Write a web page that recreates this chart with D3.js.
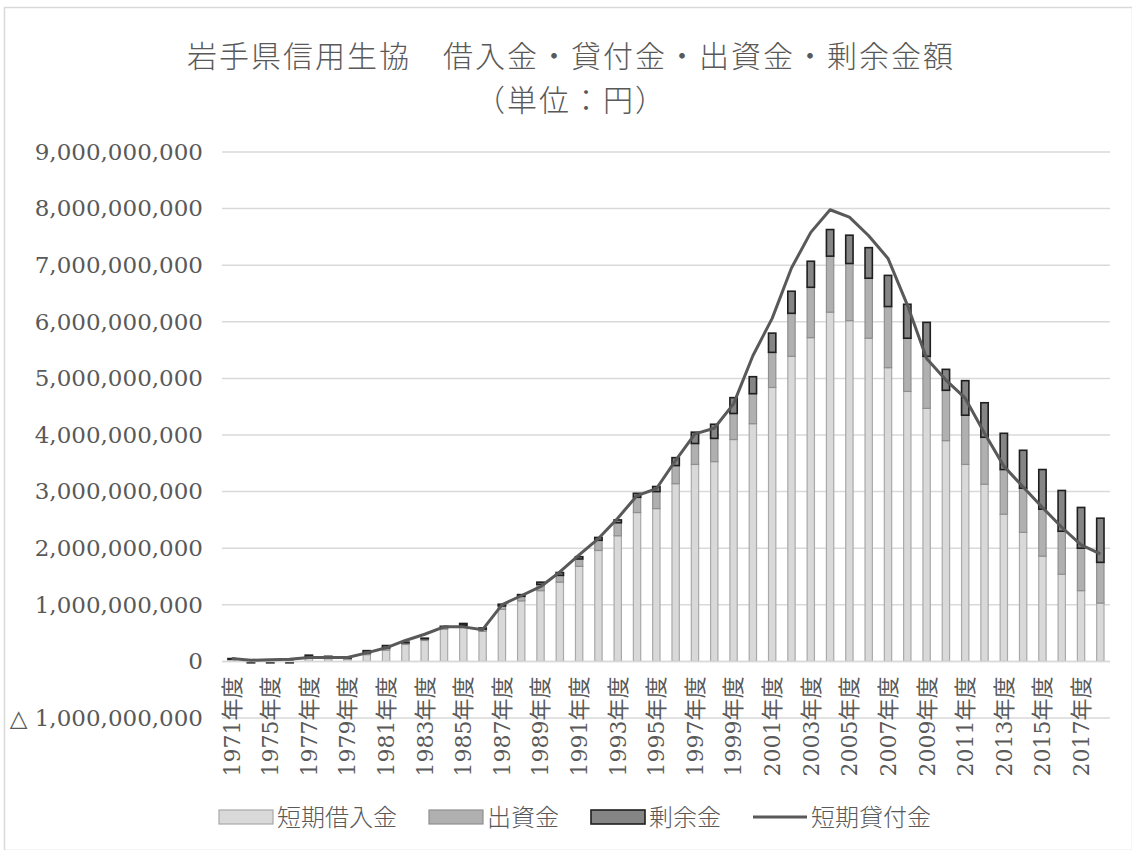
<!DOCTYPE html>
<html lang="ja">
<head>
<meta charset="UTF-8">
<title>岩手県信用生協 借入金・貸付金・出資金・剰余金額</title>
<script src="https://cdnjs.cloudflare.com/ajax/libs/d3/7.8.5/d3.min.js"></script>
<style>
    body { margin: 0; background: #fff; }
    svg text { fill: #595959; }
    .title { font-family: "Noto Sans CJK JP", sans-serif; font-size: 30px; font-weight: 300; letter-spacing: 2px; }
    .axis text { font-family: "DejaVu Serif", "Noto Sans CJK JP", serif; }
    .legend text { font-family: "Noto Sans CJK JP", sans-serif; font-size: 24px; font-weight: 300; }
</style>
</head>
<body>
<div id="chart"></div>
<script>
// 年度 (2nd category unlabeled in the original)
const years = ["1971", "1973", "1975", "1976", "1977", "1978", "1979", "1980", "1981", "1982",
    "1983", "1984", "1985", "1986", "1987", "1988", "1989", "1990", "1991", "1992",
    "1993", "1994", "1995", "1996", "1997", "1998", "1999", "2000", "2001", "2002",
    "2003", "2004", "2005", "2006", "2007", "2008", "2009", "2010", "2011", "2012",
    "2013", "2014", "2015", "2016", "2017", "2018"];

// values in millions of yen
const borrowings = [30, 0, 0, 0, 60, 50, 40, 120, 200, 300, 370, 570, 600, 530, 920, 1070, 1250, 1400, 1680, 1960,
    2220, 2630, 2700, 3140, 3480, 3530, 3920, 4200, 4840, 5390, 5720, 6170, 6020, 5710, 5190, 4770,
    4470, 3900, 3480, 3130, 2600, 2280, 1860, 1540, 1250, 1030];
const capital = [10, 10, 10, 10, 20, 20, 20, 30, 40, 30, 30, 30, 40, 40, 60, 80, 110, 120, 130, 180,
    230, 270, 300, 320, 370, 410, 460, 530, 620, 760, 890, 990, 1010, 1060, 1080, 940,
    920, 890, 870, 830, 790, 780, 830, 760, 750, 720];
const surplus = [10, -25, -25, -25, 30, 20, 10, 40, 40, 10, 10, 20, 30, 20, 30, 30, 40, 50, 40, 50,
    50, 70, 90, 140, 200, 250, 280, 300, 340, 390, 460, 470, 500, 540, 550, 600,
    600, 370, 610, 610, 640, 670, 700, 720, 720, 780];
const loans = [50, 20, 30, 40, 70, 70, 70, 150, 240, 370, 480, 610, 610, 560, 1000, 1160, 1320, 1580, 1880, 2170,
    2530, 2930, 3050, 3550, 4020, 4120, 4550, 5400, 6060, 6950, 7580, 7980, 7850, 7520, 7120, 6300,
    5350, 4970, 4650, 4030, 3450, 3080, 2720, 2370, 2060, 1900];

const yTicks = d3.range(-1e9, 9e9 + 1, 1e9);
const seriesNames = ["短期借入金", "出資金", "剰余金"];
const lineName = "短期貸付金";
const titleLines = ["岩手県信用生協　借入金・貸付金・出資金・剰余金額", "（単位：円）"];

const W = 1132, H = 850;
const plot = {left: 222, right: 1110, top: 152, bottom: 718};

const svg = d3.select("#chart").append("svg")
    .attr("width", W)
    .attr("height", H);

svg.append("rect")
    .attr("x", 4.5).attr("y", 7.5)
    .attr("width", W - 4).attr("height", H - 7)
    .attr("fill", "#fff")
    .attr("stroke", "#d9d9d9")
    .attr("stroke-width", 1.5);

// title, two lines
svg.append("g")
    .selectAll("text")
    .data(titleLines)
    .join("text")
    .attr("class", "title")
    .attr("text-anchor", "middle")
    .attr("x", 571)
    .attr("y", (d, i) => 67 + i * 44)
    .text(d => d);

const data = years.map((y, i) => ({
    year: y,
    "短期借入金": borrowings[i] * 1e6,
    "出資金": capital[i] * 1e6,
    "剰余金": surplus[i] * 1e6,
    loan: loans[i] * 1e6
}));

const x = d3.scaleBand()
    .domain(years)
    .range([plot.left, plot.right])
    .paddingInner(0.62)
    .paddingOuter(0.31);

const y = d3.scaleLinear()
    .domain([-1e9, 9e9])
    .range([plot.bottom, plot.top]);

// gridlines
svg.append("g")
    .selectAll("line")
    .data(yTicks)
    .join("line")
    .attr("x1", plot.left).attr("x2", plot.right)
    .attr("y1", d => y(d)).attr("y2", d => y(d))
    .attr("stroke", "#d9d9d9")
    .attr("stroke-width", 1.5);

// y axis labels
const fmt = d3.format(",");
const yAxis = svg.append("g")
    .attr("class", "axis")
    .attr("transform", `translate(${plot.left},0)`)
    .call(d3.axisLeft(y).tickValues(yTicks).tickSize(0).tickPadding(19)
        .tickFormat(d => d < 0 ? "△ " + fmt(-d) : fmt(d)));
yAxis.select(".domain").remove();
yAxis.selectAll("text").attr("font-size", 23);

// stacked bars
const stack = d3.stack().keys(seriesNames).offset(d3.stackOffsetDiverging);
const layers = stack(data);
const fills = ["#d9d9d9", "#b0b0b0", "#858585"];
const strokes = ["#a9a9a9", "#8f8f8f", "#1f1f1f"];

svg.append("g")
    .selectAll("g")
    .data(layers)
    .join("g")
    .attr("fill", (d, i) => fills[i])
    .attr("stroke", (d, i) => strokes[i])
    .attr("stroke-width", (d, i) => i === 2 ? 1.6 : 1.2)
    .selectAll("rect")
    .data(d => d)
    .join("rect")
    .attr("x", d => x(d.data.year))
    .attr("width", x.bandwidth())
    .attr("y", d => y(Math.max(d[0], d[1])))
    .attr("height", d => Math.abs(y(d[0]) - y(d[1])));

// zero axis line
svg.append("line")
    .attr("x1", plot.left).attr("x2", plot.right)
    .attr("y1", y(0)).attr("y2", y(0))
    .attr("stroke", "#d9d9d9")
    .attr("stroke-width", 1.5);

// x labels, every other category
const xAxis = svg.append("g")
    .attr("class", "axis")
    .attr("transform", `translate(0,${y(0)})`)
    .call(d3.axisBottom(x)
        .tickValues(years.filter((d, i) => i % 2 === 0))
        .tickSize(0)
        .tickFormat(d => d + "年度"));
xAxis.select(".domain").remove();
xAxis.selectAll("text")
    .attr("font-size", 22)
    .attr("text-anchor", "end")
    .attr("transform", "rotate(-90)")
    .attr("x", -15)
    .attr("y", 0)
    .attr("dy", "0.36em");

// line series
const line = d3.line()
    .x(d => x(d.year) + x.bandwidth() / 2)
    .y(d => y(d.loan));

svg.append("path")
    .datum(data)
    .attr("fill", "none")
    .attr("stroke", "#595959")
    .attr("stroke-width", 3)
    .attr("stroke-linejoin", "round")
    .attr("d", line);

// legend
const legendItems = [
    {name: seriesNames[0], type: "rect", i: 0},
    {name: seriesNames[1], type: "rect", i: 1},
    {name: seriesNames[2], type: "rect", i: 2},
    {name: lineName, type: "line"}
];
const legend = svg.append("g").attr("class", "legend");
let lx = 0;
legendItems.forEach(item => {
    const g = legend.append("g").attr("transform", `translate(${lx},0)`);
    if (item.type === "rect") {
        g.append("rect")
            .attr("x", 0).attr("y", -7)
            .attr("width", 54).attr("height", 14)
            .attr("fill", fills[item.i])
            .attr("stroke", strokes[item.i])
            .attr("stroke-width", item.i === 2 ? 1.6 : 1.2);
    } else {
        g.append("line")
            .attr("x1", 0).attr("x2", 54)
            .attr("y1", 0).attr("y2", 0)
            .attr("stroke", "#595959")
            .attr("stroke-width", 3);
    }
    const t = g.append("text")
        .attr("x", 58).attr("y", 0)
        .attr("dy", "0.36em")
        .text(item.name);
    lx += 58 + t.node().getComputedTextLength() + 32;
});
const legendW = lx - 32;
legend.attr("transform", `translate(${575 - legendW / 2},817)`);
</script>
</body>
</html>
